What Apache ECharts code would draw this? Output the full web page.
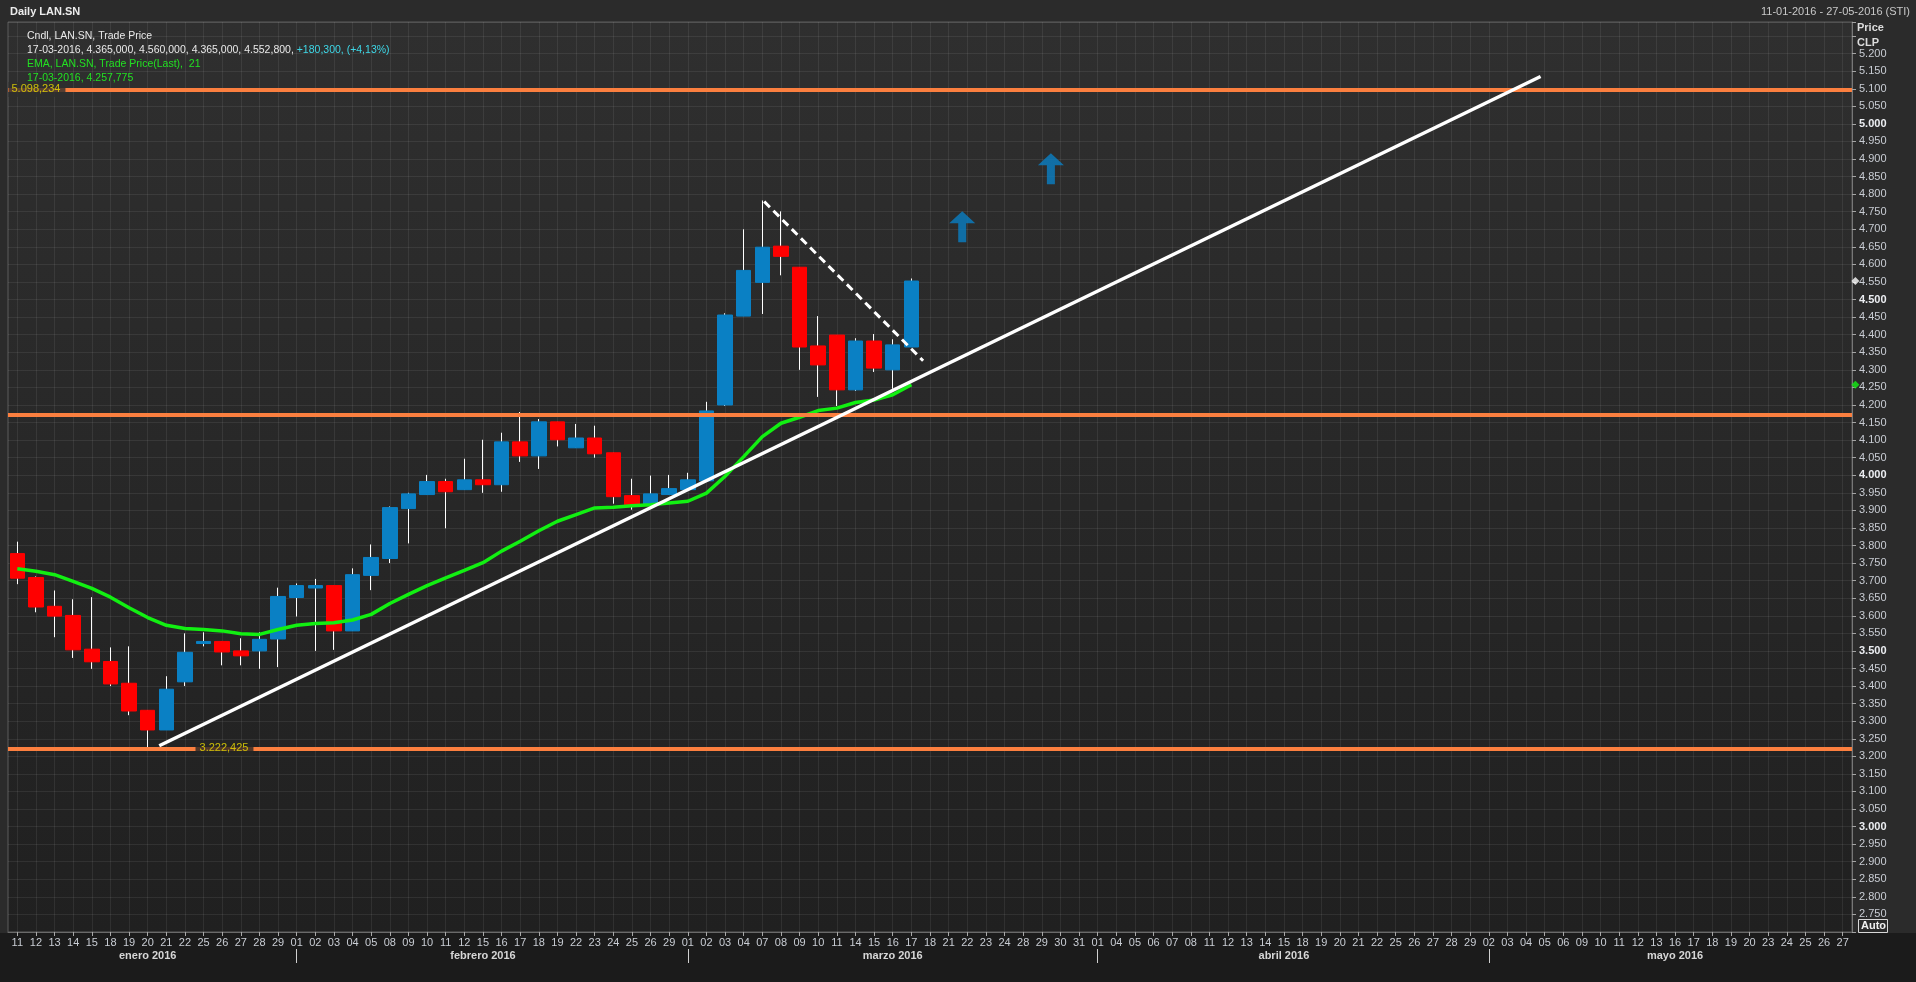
<!DOCTYPE html>
<html><head><meta charset="utf-8">
<script src="https://cdn.jsdelivr.net/npm/echarts@6/dist/echarts.min.js"></script>
<style>html,body{margin:0;padding:0;background:#2b2b2b;}#c{width:1916px;height:982px;}</style>
</head><body><div id="c"></div>
<script>
// ---- categories (trading days) ----
const janDays = ['11','12','13','14','15','18','19','20','21','22','25','26','27','28','29'];
const febDays = ['01','02','03','04','05','08','09','10','11','12','15','16','17','18','19','22','23','24','25','26','29'];
const marDays = ['01','02','03','04','07','08','09','10','11','14','15','16','17','18','21','22','23','24','28','29','30','31'];
const aprDays = ['01','04','05','06','07','08','11','12','13','14','15','18','19','20','21','22','25','26','27','28','29'];
const mayDays = ['02','03','04','05','06','09','10','11','12','13','16','17','18','19','20','23','24','25','26','27'];
const monthNames = ['enero 2016','febrero 2016','marzo 2016','abril 2016','mayo 2016'];

// ---- OHLC (CLP), 11-01-2016 .. 17-03-2016 ----
const openP  = [3777,3709,3627,3601,3505,3470,3408,3331,3275,3412,3521,3527,3500,3500,3534,3652,3679,3686,3557,3715,3763,3905,3945,3982,3959,3987,3973,4095,4055,4152,4078,4106,4064,3942,3916,3945,3959,3984,4200,4453,4549,4652,4592,4368,4399,4243,4382,4300,4365];
const highP  = [3811,3712,3672,3647,3653,3510,3513,3331,3428,3550,3553,3527,3536,3553,3680,3692,3705,3686,3735,3803,3911,3950,4001,3990,4047,4101,4121,4180,4160,4152,4146,4141,4064,3990,3999,4001,4007,4209,4461,4700,4782,4751,4592,4453,4399,4390,4402,4387,4560];
const lowP   = [3690,3610,3539,3480,3449,3400,3317,3222.425,3275,3400,3513,3459,3459,3449,3454,3598,3500,3503,3557,3673,3750,3806,3945,3849,3959,3950,3953,4038,4018,4082,4078,4050,3919,3902,3916,3945,3959,3984,4197,4453,4459,4569,4300,4223,4197,4240,4294,4246,4365];
const closeP = [3707,3625,3599,3503,3469,3406,3329,3275,3391,3496,3527,3497,3486,3533,3655,3686,3686,3557,3717,3766,3908,3947,3982,3953,3987,3973,4095,4055,4152,4101,4106,4061,3939,3916,3947,3962,3987,4183,4456,4583,4649,4623,4365,4314,4243,4382,4305,4371,4552.8];
// ---- EMA 21 ----
const ema21 = [3734,3727,3717,3698,3678,3653,3623,3595,3573,3564,3561,3557,3549,3547,3561,3573,3578,3580,3588,3604,3635,3661,3686,3708,3729,3751,3784,3812,3842,3869,3888,3907,3909,3913,3916,3921,3926,3949,3997,4053,4110,4148,4165,4184,4191,4207,4214,4229,4257.775];
// ---- drawn studies ----
const levels = [5098.234, 4172, 3222.425];
const trendLine = [[7.62,3230],[81.78,5135]];
const resistLine = [[40.1,4779],[48.63,4326]];
const arrowPts = [[50.73,4707],[55.49,4872]];

const FONT = 'Liberation Sans, Arial, sans-serif';
const monthDays = [janDays,febDays,marDays,aprDays,mayDays];
const categories = [];
monthDays.forEach((arr, m) => arr.forEach(d => { categories.push(d + '-' + String(m+1).padStart(2,'0')); }));
const monthStart = new Set(), monthMid = new Set();
let acc = 0;
monthDays.forEach(arr => { monthStart.add(acc); monthMid.add(acc + Math.floor((arr.length - 1) / 2 + 0.5)); acc += arr.length; });

const wickData = openP.map((o,i) => [o, closeP[i], lowP[i], highP[i]]);
const bodyData = openP.map((o,i) => [o, closeP[i], Math.min(o,closeP[i]), Math.max(o,closeP[i])]);
const lastIdx = closeP.length - 1;
const BLUE = '#0a80c4', RED = '#ff0000', ORANGE = '#fb7f3f';

function fmtThousands(v){ return (v/1000).toFixed(3); }

const chart = echarts.init(document.getElementById('c'), null, {renderer:'canvas'});
chart.setOption({
  backgroundColor: '#2b2b2b',
  animation: false,
  grid: { left: 8, right: 64, top: 22, bottom: 50, show: true, borderColor: '#5c5c5c', borderWidth: 1,
    backgroundColor: {type:'linear', x:0, y:0, x2:0, y2:1, colorStops:[{offset:0,color:'#2f2f2f'},{offset:1,color:'#202020'}]} },
  xAxis: [
    { type:'category', data: categories, gridIndex:0, position:'bottom',
      axisLine:{show:true, lineStyle:{color:'#6a6a6a'}},
      axisTick:{show:true, alignWithLabel:true, interval:0, length:4, lineStyle:{color:'#a8a8a8'}},
      axisLabel:{interval:0, color:'#c9cdd4', fontSize:11, fontFamily:FONT, margin:5, formatter: v => v.slice(0,2)},
      splitLine:{show:true, interval:0, alignWithLabel:true, lineStyle:{color:'rgba(255,255,255,0.075)'}} },
    { type:'category', data: categories, gridIndex:0, position:'bottom', offset:17,
      axisLine:{show:false},
      axisTick:{show:true, alignWithLabel:true, length:14, interval:(i) => monthStart.has(i) && i > 0, lineStyle:{color:'#d0d0d0'}},
      axisLabel:{interval:(i) => monthMid.has(i), margin:1, color:'#d6d6d6', fontWeight:'bold', fontSize:11, fontFamily:FONT,
        formatter: (v) => monthNames[parseInt(v.slice(3),10)-1]},
      splitLine:{show:false} },
    { type:'value', gridIndex:0, min:-0.5, max: categories.length - 0.5, show:false,
      axisTick:{show:false}, axisLine:{show:false}, axisLabel:{show:false}, splitLine:{show:false} }
  ],
  yAxis: [{
    type:'value', position:'right', min:2700, max:5290, interval:50,
    axisLine:{show:true, onZero:false, lineStyle:{color:'#777'}},
    axisTick:{show:true, inside:false, length:4, lineStyle:{color:'#a4a4a4'}},
    splitLine:{show:true, lineStyle:{color:'rgba(255,255,255,0.075)'}},
    axisLabel:{ color:'#c9cdd4', fontSize:11, fontFamily:FONT, margin:7,
      formatter: v => { if (v % 50 !== 0 || v > 5200 || v < 2750) return ''; const s = fmtThousands(v); return v % 500 === 0 ? '{b|' + s + '}' : s; },
      rich:{ b:{ fontWeight:'bold', color:'#eceef2', fontSize:11, fontFamily:FONT } } }
  }],
  series: [
    { name:'wick', type:'candlestick', xAxisIndex:0, yAxisIndex:0, data: wickData, barWidth:1, z:2,
      itemStyle:{ color:'#ffffff', color0:'#ffffff', borderColor:'#ffffff', borderColor0:'#ffffff', borderWidth:1 } },
    { name:'body', type:'candlestick', xAxisIndex:0, yAxisIndex:0, data: bodyData, barWidth:15, barMaxWidth:20, z:3,
      itemStyle:{ color:BLUE, color0:RED, borderColor:BLUE, borderColor0:RED, borderWidth:1 } },
    { name:'EMA', type:'line', xAxisIndex:0, yAxisIndex:0, data: ema21, symbol:'none', z:4,
      lineStyle:{ color:'#12f012', width:3.5 } },
    { name:'levels', type:'line', xAxisIndex:2, yAxisIndex:0, data: [], z:5,
      markLine:{ silent:true, symbol:['none','none'], label:{show:false},
        lineStyle:{ color:ORANGE, width:4, type:'solid' },
        data: levels.map(v => ({ yAxis: v })) } },
    { name:'levelLabels', type:'scatter', xAxisIndex:2, yAxisIndex:0, z:6, symbol:'circle', symbolSize:1,
      itemStyle:{ color:'rgba(0,0,0,0)' },
      data: [
        { value: [-0.5, levels[0]], label:{ backgroundColor:'#2e2e2e', padding:[2,5,2,3] } },
        { value: [9.54, levels[2]], label:{ backgroundColor:'#242424', padding:[2,5,2,4] } }
      ],
      label:{ show:true, position:'right', distance:0, color:'#f0e000', fontSize:11, fontFamily:FONT,
        formatter: p => { const v = p.value[1]; const ip = Math.floor(v); const frac = Math.round((v - ip) * 1000); return fmtThousands(ip) + ',' + String(frac).padStart(3,'0'); } } },
    { name:'trend', type:'line', xAxisIndex:2, yAxisIndex:0, data: trendLine, symbol:'none', z:7,
      lineStyle:{ color:'#ffffff', width:3.5 } },
    { name:'resist', type:'line', xAxisIndex:2, yAxisIndex:0, data: resistLine, symbol:'none', z:7,
      lineStyle:{ color:'#ffffff', width:3, type:[8,5] } },
    { name:'arrows', type:'scatter', xAxisIndex:2, yAxisIndex:0, data: arrowPts, z:8,
      symbol:'path://M13,0 L26,12 L17,12 L17,31 L9,31 L9,12 L0,12 Z', symbolSize:[26,31], itemStyle:{ color:BLUE } },
    { name:'lastMarks', type:'scatter', xAxisIndex:2, yAxisIndex:0, clip:false, z:9, symbol:'diamond', symbolSize:8,
      data: [ { value:[98.68, closeP[lastIdx]], itemStyle:{color:'#ffffff'} }, { value:[98.68, ema21[lastIdx]], itemStyle:{color:'#14f014'} } ] }
  ],
  graphic: [
    { type:'rect', left:0, top:933, silent:true, z:-10, shape:{ width:1916, height:49 }, style:{ fill:'#1b1b1b' } },
    { type:'text', left:10, top:6, silent:true, style:{ text:'Daily LAN.SN', fill:'#ececec', fontSize:11, fontWeight:'bold', fontFamily:FONT } },
    { type:'text', right:6, top:6, silent:true, style:{ text:'11-01-2016 - 27-05-2016 (STI)', fill:'#c8c8c8', fontSize:11, fontFamily:FONT } },
    { type:'text', left:1857, top:22, silent:true, style:{ text:'Price', fill:'#dcdcdc', fontSize:11, fontWeight:'bold', fontFamily:FONT } },
    { type:'text', left:1857, top:37, silent:true, style:{ text:'CLP', fill:'#dcdcdc', fontSize:11, fontWeight:'bold', fontFamily:FONT } },
    { type:'text', left:27, top:31, silent:true, z:20, style:{ text:'Cndl, LAN.SN, Trade Price', fill:'#eaeaea', fontSize:10.5, fontFamily:FONT } },
    { type:'text', left:27, top:45, silent:true, z:20, style:{
        text:'{w|17-03-2016, 4.365,000, 4.560,000, 4.365,000, 4.552,800, }{c|+180,300, (+4,13%)}',
        fontSize:10.5, fontFamily:FONT,
        rich:{ w:{ fill:'#eaeaea', color:'#eaeaea', fontSize:10.5, fontFamily:FONT }, c:{ fill:'#3ed8e8', color:'#3ed8e8', fontSize:10.5, fontFamily:FONT } } } },
    { type:'text', left:27, top:59, silent:true, z:20, style:{ text:'EMA, LAN.SN, Trade Price(Last),  21', fill:'#22e022', fontSize:10.5, fontFamily:FONT } },
    { type:'text', left:27, top:73, silent:true, z:20, style:{ text:'17-03-2016, 4.257,775', fill:'#22e022', fontSize:10.5, fontFamily:FONT } },
    { type:'rect', left:1858, top:919, silent:true, z:20, shape:{ width:29, height:13 }, style:{ fill:'#2a2a2a', stroke:'#d8d8d8', lineWidth:1 } },
    { type:'text', left:1861, top:920, silent:true, z:21, style:{ text:'Auto', fill:'#f0f0f0', fontSize:11, fontWeight:'bold', fontFamily:FONT } }
  ]
});
</script></body></html>
